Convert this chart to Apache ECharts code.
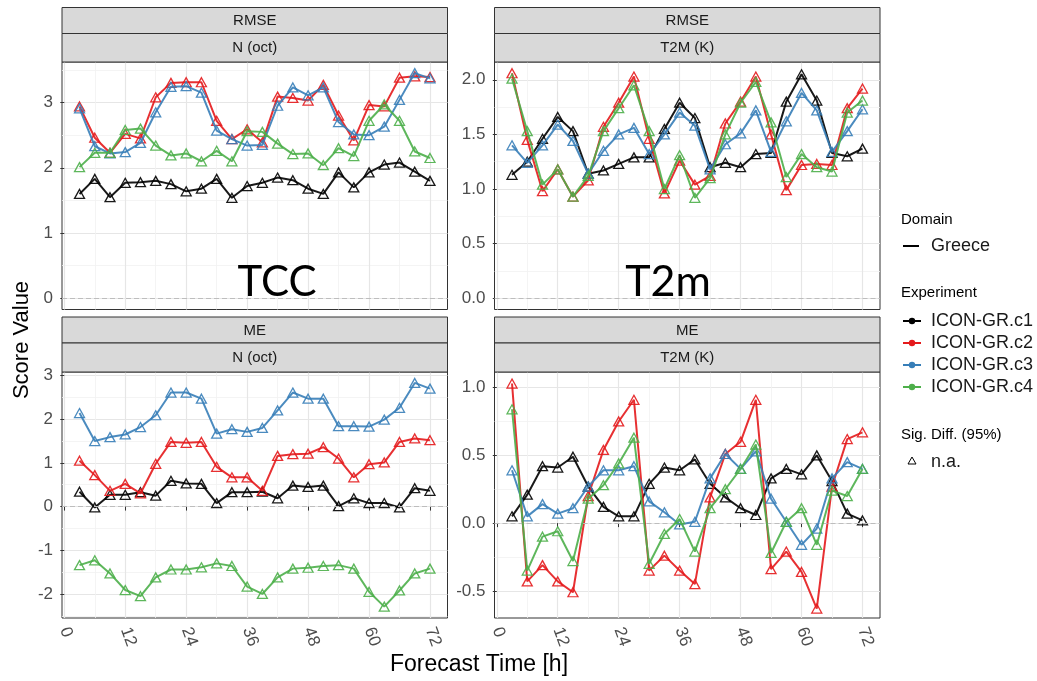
<!DOCTYPE html>
<html>
<head>
<meta charset="utf-8">
<script src="https://cdn.jsdelivr.net/npm/echarts@6/dist/echarts.min.js"></script>
<style>
html,body{margin:0;padding:0;background:#fff;}
#chart{width:1037px;height:681px;}
</style>
</head>
<body>
<div id="chart"></div>
<script>
// ---------------- data ----------------
const forecastHours = [3,6,9,12,15,18,21,24,27,30,33,36,39,42,45,48,51,54,57,60,63,66,69,72];
const experiments = ['ICON-GR.c1','ICON-GR.c2','ICON-GR.c3','ICON-GR.c4'];
const experimentColors = ['#000000','#E41A1C','#377EB8','#4DAF4A'];
const xTickValues = [0,12,24,36,48,60,72];
const xMinorValues = [6,18,30,42,54,66];

// RMSE, N (oct)
const rmseTccC1 = [1.60,1.83,1.55,1.77,1.78,1.80,1.75,1.64,1.68,1.83,1.54,1.72,1.77,1.85,1.81,1.68,1.60,1.93,1.70,1.93,2.05,2.08,1.94,1.80];
const rmseTccC2 = [2.94,2.46,2.23,2.52,2.45,3.08,3.30,3.31,3.31,2.72,2.44,2.59,2.39,3.09,3.07,3.03,3.27,2.80,2.42,2.96,2.94,3.38,3.40,3.39];
const rmseTccC3 = [2.91,2.33,2.22,2.24,2.38,2.85,3.24,3.25,3.15,2.57,2.44,2.34,2.35,2.95,3.23,3.11,3.23,2.70,2.51,2.50,2.63,3.04,3.45,3.37];
const rmseTccC4 = [2.01,2.23,2.23,2.58,2.60,2.34,2.19,2.22,2.10,2.26,2.10,2.56,2.55,2.37,2.21,2.22,2.04,2.30,2.18,2.72,2.97,2.72,2.25,2.15];

// RMSE, T2M (K)
const rmseT2mC1 = [1.13,1.25,1.46,1.66,1.53,1.14,1.17,1.23,1.29,1.29,1.55,1.79,1.65,1.20,1.24,1.20,1.32,1.33,1.80,2.05,1.81,1.33,1.30,1.37];
const rmseT2mC2 = [2.06,1.45,0.98,1.18,0.93,1.08,1.57,1.79,2.03,1.46,0.96,1.26,1.04,1.12,1.60,1.80,2.03,1.50,0.99,1.22,1.23,1.22,1.74,1.92];
const rmseT2mC3 = [1.40,1.24,1.40,1.59,1.44,1.14,1.35,1.50,1.56,1.32,1.50,1.70,1.58,1.18,1.41,1.51,1.72,1.34,1.62,1.88,1.72,1.34,1.53,1.73];
const rmseT2mC4 = [2.01,1.53,1.04,1.18,0.93,1.12,1.53,1.74,1.95,1.53,1.00,1.31,0.92,1.10,1.50,1.79,1.98,1.61,1.11,1.32,1.20,1.16,1.70,1.81];

// ME, N (oct)
const meTccC1 = [0.34,-0.02,0.27,0.27,0.33,0.25,0.59,0.53,0.52,0.08,0.33,0.33,0.34,0.19,0.48,0.45,0.48,0.01,0.19,0.08,0.08,-0.02,0.42,0.36];
const meTccC2 = [1.05,0.72,0.36,0.52,0.30,0.98,1.48,1.46,1.48,0.91,0.67,0.67,0.36,1.16,1.20,1.21,1.36,1.10,0.67,0.97,1.01,1.48,1.56,1.52];
const meTccC3 = [2.14,1.50,1.59,1.65,1.82,2.09,2.61,2.61,2.47,1.67,1.77,1.71,1.80,2.20,2.61,2.47,2.47,1.84,1.84,1.83,1.99,2.26,2.83,2.70];
const meTccC4 = [-1.34,-1.23,-1.53,-1.91,-2.05,-1.62,-1.44,-1.44,-1.39,-1.30,-1.36,-1.83,-2.00,-1.62,-1.42,-1.40,-1.36,-1.34,-1.42,-1.95,-2.29,-1.92,-1.53,-1.42];

// ME, T2M (K)
const meT2mC1 = [0.05,0.21,0.42,0.41,0.49,0.27,0.12,0.05,0.05,0.29,0.41,0.39,0.47,0.29,0.19,0.11,0.06,0.33,0.40,0.36,0.50,0.31,0.07,0.02];
const meT2mC2 = [1.03,-0.43,-0.31,-0.43,-0.51,0.20,0.54,0.75,0.91,-0.35,-0.24,-0.35,-0.45,0.19,0.51,0.60,0.91,-0.34,-0.21,-0.36,-0.63,0.27,0.62,0.67];
const meT2mC3 = [0.39,0.05,0.14,0.07,0.11,0.27,0.39,0.39,0.42,0.16,0.08,-0.01,0.01,0.33,0.51,0.40,0.53,0.18,0.01,-0.16,-0.04,0.33,0.45,0.40];
const meT2mC4 = [0.84,-0.35,-0.10,-0.06,-0.28,0.18,0.28,0.44,0.63,-0.30,-0.08,0.03,-0.21,0.11,0.25,0.40,0.58,-0.22,0.01,0.11,-0.16,0.24,0.20,0.40];

// y tick labels per panel
const rmseTccTicks = [0,1,2,3];
const rmseTccMinor = [0.5,1.5,2.5,3.5];
const rmseT2mTicks = [0,0.5,1,1.5,2];
const rmseT2mMinor = [0.25,0.75,1.25,1.75];
const meTccTicks = [-2,-1,0,1,2,3];
const meTccMinor = [-2.5,-1.5,-0.5,0.5,1.5,2.5];
const meT2mTicks = [-0.5,0,0.5,1];
const meT2mMinor = [-0.25,0.25,0.75];

// ---------------- layout ----------------
const PANEL_W = 385.5;
const X_MIN = -0.45, X_MAX = 75.45;
const FONT = "'Liberation Sans', Arial, sans-serif";

const panels = [
  {stat:'RMSE', variable:'N (oct)', data:[rmseTccC1,rmseTccC2,rmseTccC3,rmseTccC4], yMin:-0.17, yMax:3.62,
   ticks:rmseTccTicks, minor:rmseTccMinor, digits:0, left:62, top:62, height:247.5, stripTop:7.5, showX:false},
  {stat:'RMSE', variable:'T2M (K)', data:[rmseT2mC1,rmseT2mC2,rmseT2mC3,rmseT2mC4], yMin:-0.103, yMax:2.163,
   ticks:rmseT2mTicks, minor:rmseT2mMinor, digits:1, left:494.5, top:62, height:247.5, stripTop:7.5, showX:false},
  {stat:'ME', variable:'N (oct)', data:[meTccC1,meTccC2,meTccC3,meTccC4], yMin:-2.55, yMax:3.08,
   ticks:meTccTicks, minor:meTccMinor, digits:0, left:62, top:372, height:246, stripTop:317, showX:true},
  {stat:'ME', variable:'T2M (K)', data:[meT2mC1,meT2mC2,meT2mC3,meT2mC4], yMin:-0.70, yMax:1.115,
   ticks:meT2mTicks, minor:meT2mMinor, digits:1, left:494.5, top:372, height:246, stripTop:317, showX:true}
];

const grids = [], xAxes = [], yAxes = [], series = [], graphics = [];

panels.forEach((p, k) => {
  grids.push({
    left:p.left, top:p.top, width:PANEL_W, height:p.height,
    show:true, backgroundColor:'#ffffff', borderColor:'#333333', borderWidth:1,
    containLabel:false, outerBoundsMode:'none'
  });
  // major x axis
  xAxes.push({
    type:'value', gridIndex:k, min:X_MIN, max:X_MAX,
    axisLine:{show:false},
    axisTick:{show:p.showX, length:4, lineStyle:{color:'#333333', width:1}, customValues:xTickValues},
    axisLabel:{show:p.showX, customValues:xTickValues, rotate:-70, margin:10, fontSize:17,
               color:'#4d4d4d', fontFamily:FONT},
    splitLine:{show:true, lineStyle:{color:'#e6e6e6', width:1.2}}
  });
  // minor x grid
  xAxes.push({
    type:'value', gridIndex:k, min:X_MIN, max:X_MAX,
    axisLine:{show:false}, axisTick:{show:false, customValues:xMinorValues}, axisLabel:{show:false},
    splitLine:{show:true, lineStyle:{color:'#f1f1f1', width:0.8}}
  });
  // major y axis
  yAxes.push({
    type:'value', gridIndex:k, min:p.yMin, max:p.yMax,
    axisLine:{show:false},
    axisTick:{show:true, length:4, lineStyle:{color:'#333333', width:1}, customValues:p.ticks},
    axisLabel:{show:true, customValues:p.ticks, margin:9, fontSize:17, color:'#4d4d4d', fontFamily:FONT,
               formatter:(v) => p.digits ? Number(v).toFixed(p.digits) : String(Math.round(v))},
    splitLine:{show:true, lineStyle:{color:'#e6e6e6', width:1.2}}
  });
  // minor y grid
  yAxes.push({
    type:'value', gridIndex:k, min:p.yMin, max:p.yMax,
    axisLine:{show:false}, axisTick:{show:false, customValues:p.minor}, axisLabel:{show:false},
    splitLine:{show:true, lineStyle:{color:'#f1f1f1', width:0.8}}
  });

  p.data.forEach((arr, j) => {
    const col = experimentColors[j];
    const s = {
      type:'line', name:experiments[j], xAxisIndex:2*k, yAxisIndex:2*k,
      data:forecastHours.map((h, i) => [h, arr[i]]),
      symbol:'triangle', symbolSize:[10,9], showSymbol:true,
      lineStyle:{color:col, width:2, opacity:0.9},
      itemStyle:{color:'rgba(255,255,255,0)', borderColor:col, borderWidth:1.3, opacity:0.9},
      emphasis:{disabled:true}, silent:true, animation:false, z:3+j
    };
    if (j === 0) {
      s.markLine = {
        silent:true, symbol:['none','none'], label:{show:false}, animation:false,
        lineStyle:{color:'#bdbdbd', type:[5,3], width:1},
        data:[{yAxis:0}]
      };
    }
    series.push(s);
  });

  // facet strips
  const h1 = 26, h2 = p.top - p.stripTop - h1;
  graphics.push({type:'rect', shape:{x:p.left, y:p.stripTop, width:PANEL_W, height:h1},
    style:{fill:'#d9d9d9', stroke:'#333333', lineWidth:1}, z:10});
  graphics.push({type:'rect', shape:{x:p.left, y:p.stripTop + h1, width:PANEL_W, height:h2},
    style:{fill:'#d9d9d9', stroke:'#333333', lineWidth:1}, z:10});
  graphics.push({type:'text', x:p.left + PANEL_W/2, y:p.stripTop + h1/2 + 0.5, z:11,
    style:{text:p.stat, fontSize:15, fontFamily:FONT, fill:'#1a1a1a', textAlign:'center', textVerticalAlign:'middle'}});
  graphics.push({type:'text', x:p.left + PANEL_W/2, y:p.stripTop + h1 + h2/2, z:11,
    style:{text:p.variable, fontSize:15, fontFamily:FONT, fill:'#1a1a1a', textAlign:'center', textVerticalAlign:'middle'}});
});

// overlay annotations
graphics.push({type:'text', x:277, y:282, z:20,
  style:{text:'TCC', fontSize:42, fontFamily:"Lato, 'Open Sans', sans-serif", fill:'#000', textAlign:'center', textVerticalAlign:'middle'}});
graphics.push({type:'text', x:668, y:282, z:20,
  style:{text:'T2m', fontSize:43, fontFamily:"Lato, 'Open Sans', sans-serif", fill:'#000', textAlign:'center', textVerticalAlign:'middle'}});

// axis titles
graphics.push({type:'text', x:479, y:665, z:20,
  style:{text:'Forecast Time [h]', fontSize:23, fontFamily:FONT, fill:'#000', textAlign:'center', textVerticalAlign:'middle'}});
graphics.push({type:'text', x:22, y:340, rotation:Math.PI/2, z:20,
  style:{text:'Score Value', fontSize:22, fontFamily:FONT, fill:'#000', textAlign:'center', textVerticalAlign:'middle'}});

// legend
const LX = 901;
graphics.push({type:'text', x:LX, y:220, style:{text:'Domain', fontSize:15, fontFamily:FONT, fill:'#000', textVerticalAlign:'middle'}});
graphics.push({type:'line', shape:{x1:903, y1:246, x2:919, y2:246}, style:{stroke:'#000', lineWidth:2}});
graphics.push({type:'text', x:931, y:246, style:{text:'Greece', fontSize:18, fontFamily:FONT, fill:'#1a1a1a', textVerticalAlign:'middle'}});
graphics.push({type:'text', x:LX, y:293, style:{text:'Experiment', fontSize:15, fontFamily:FONT, fill:'#000', textVerticalAlign:'middle'}});
experiments.forEach((name, j) => {
  const y = 321 + 22*j;
  graphics.push({type:'line', shape:{x1:903, y1:y, x2:921, y2:y}, style:{stroke:experimentColors[j], lineWidth:2}});
  graphics.push({type:'circle', shape:{cx:912, cy:y, r:3.2}, style:{fill:experimentColors[j]}});
  graphics.push({type:'text', x:931, y:y, style:{text:name, fontSize:18, fontFamily:FONT, fill:'#1a1a1a', textVerticalAlign:'middle'}});
});
graphics.push({type:'text', x:LX, y:435, style:{text:'Sig. Diff. (95%)', fontSize:15, fontFamily:FONT, fill:'#000', textVerticalAlign:'middle'}});
graphics.push({type:'polygon', shape:{points:[[912,457],[908,464],[916,464]]}, style:{fill:'none', stroke:'#000', lineWidth:1}});
graphics.push({type:'text', x:931, y:462, style:{text:'n.a.', fontSize:18, fontFamily:FONT, fill:'#1a1a1a', textVerticalAlign:'middle'}});

const chart = echarts.init(document.getElementById('chart'), null, {renderer:'canvas'});
chart.setOption({
  backgroundColor:'#ffffff',
  animation:false,
  grid:grids, xAxis:xAxes, yAxis:yAxes, series:series,
  graphic:graphics
});
</script>
</body>
</html>
